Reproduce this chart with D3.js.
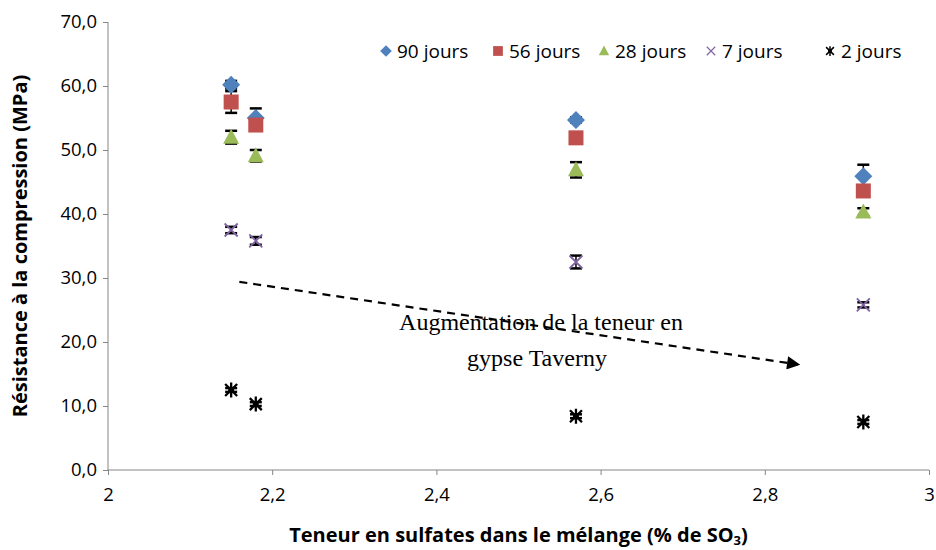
<!DOCTYPE html>
<html><head><meta charset="utf-8">
<script src="https://cdn.jsdelivr.net/npm/d3@7"></script>
<style>body{margin:0;background:#fff}svg{display:block}</style>
</head><body><svg id="c" width="936" height="550"></svg>
<script>
const sulfates = [2.15, 2.18, 2.57, 2.92];
const seriesNames = ["90 jours", "56 jours", "28 jours", "7 jours", "2 jours"];
const j90 = [60.2, 55.0, 54.7, 45.9];
const j56 = [57.5, 53.9, 51.9, 43.6];
const j28 = [52.0, 49.1, 46.9, 40.3];
const j7 = [37.5, 35.8, 32.5, 25.8];
const j2 = [12.5, 10.3, 8.4, 7.5];
const e90 = [0.6, 1.5, 0.4, 1.8];
const e56 = [1.7, 0.5, 0.4, 0.5];
const e28 = [1.0, 0.9, 1.2, 0.6];
const e7 = [0.5, 0.6, 1.0, 0.4];
const e2 = [0.3, 0.3, 0.3, 0.3];
const xTicks = [2, 2.2, 2.4, 2.6, 2.8, 3];
const yTicks = [0, 10, 20, 30, 40, 50, 60, 70];
const arrowStart = [2.16, 29.4];
const arrowEnd = [2.84, 16.5];
const annotLines = ["Augmentation de la teneur en", "gypse Taverny"];

const svg = d3.select("#c");
const m = {l:108, r:7, t:22, b:80};
const W = 936, H = 550;
const x = d3.scaleLinear().domain([2,3]).range([m.l, W-m.r]);
const y = d3.scaleLinear().domain([0,70]).range([H-m.b, m.t]);
const fmt1 = d3.format(".1f");
const fmtX = v => String(+v.toFixed(1)).replace(".", ",");
const axisCol = "#868686";
const font = "'Open Sans', Lato, sans-serif";

// axes
const ya = svg.append("g").attr("transform",`translate(${m.l},0)`)
  .call(d3.axisLeft(y).tickValues(yTicks).tickSize(5).tickPadding(6).tickFormat(v=>fmt1(v).replace(".",",")));
const xa = svg.append("g").attr("transform",`translate(0,${H-m.b})`)
  .call(d3.axisBottom(x).tickValues(xTicks).tickSize(5).tickPadding(13).tickFormat(fmtX));
[ya, xa].forEach(a=>{
  a.selectAll("path,line").attr("stroke",axisCol).attr("stroke-width",1);
  a.selectAll("text").attr("font-family",font).attr("font-size",18.5).attr("fill","#000");
});
ya.select(".domain").attr("d",`M0,${y(0)}V${y(70)}`);
xa.select(".domain").attr("d",`M${x(2)},0H${x(3)}`);

// axis titles
svg.append("text").attr("transform",`translate(27,${(y(0)+y(70))/2}) rotate(-90)`)
  .attr("text-anchor","middle").attr("font-family",font).attr("font-weight","bold").attr("font-size",20)
  .text("Résistance à la compression (MPa)");
const xt = svg.append("text").attr("x",(x(2)+x(3))/2).attr("y",542)
  .attr("text-anchor","middle").attr("font-family",font).attr("font-weight","bold").attr("font-size",20);
xt.append("tspan").text("Teneur en sulfates dans le mélange (% de SO");
xt.append("tspan").attr("font-size",13).attr("dy",3).text("3");
xt.append("tspan").attr("dy",-3).text(")");

// marker drawers
const markers = {
  diamond: (g)=>g.append("path").attr("d","M0,-9L9,0L0,9L-9,0Z").attr("fill","#4F81BD"),
  square: (g)=>g.append("rect").attr("x",-7.5).attr("y",-7.5).attr("width",15).attr("height",15).attr("fill","#C0504D"),
  triangle: (g)=>g.append("path").attr("d","M0,-8.5L8,6.5L-8,6.5Z").attr("fill","#9BBB59"),
  cross: (g)=>g.append("path").attr("d","M-6.5,-6.5L6.5,6.5M-6.5,6.5L6.5,-6.5").attr("stroke","#8064A2").attr("stroke-width",1.8).attr("fill","none"),
  star: (g)=>g.append("path").attr("d","M-6,-6L6,6M-6,6L6,-6M0,-7.5V7.5M-3,0H3").attr("stroke","#000").attr("stroke-width",2.3).attr("fill","none")
};
const series = [
  {name:seriesNames[0], vals:j90, err:e90, m:"diamond"},
  {name:seriesNames[1], vals:j56, err:e56, m:"square"},
  {name:seriesNames[2], vals:j28, err:e28, m:"triangle"},
  {name:seriesNames[3], vals:j7, err:e7, m:"cross"},
  {name:seriesNames[4], vals:j2, err:e2, m:"star"}
];

// error bars
const eg = svg.append("g").attr("stroke","#000").attr("stroke-width",1.5);
series.forEach(s=>{
  s.vals.forEach((v,i)=>{
    const cx = x(sulfates[i]), y1 = y(v+s.err[i]), y2 = y(v-s.err[i]);
    eg.append("line").attr("x1",cx).attr("x2",cx).attr("y1",y1).attr("y2",y2);
    eg.append("line").attr("x1",cx-6).attr("x2",cx+6).attr("y1",y1).attr("y2",y1).attr("stroke-width",2.5);
    eg.append("line").attr("x1",cx-6).attr("x2",cx+6).attr("y1",y2).attr("y2",y2).attr("stroke-width",2.5);
  });
});
// markers
series.forEach(s=>{
  s.vals.forEach((v,i)=>{
    const g = svg.append("g").attr("transform",`translate(${x(sulfates[i])},${y(v)})`);
    markers[s.m](g);
  });
});

// legend
const legX = [386, 498, 604, 711, 830];
series.forEach((s,i)=>{
  const g = svg.append("g").attr("transform",`translate(${legX[i]},51)`);
  const mk = markers[s.m](g);
  mk.attr("transform","scale(0.65)");
  g.append("text").attr("x",11).attr("y",7).attr("font-family",font).attr("font-size",19).text(s.name);
});

// annotation arrow
svg.append("defs").append("marker").attr("id","ah").attr("viewBox","0 0 10 10").attr("refX",8).attr("refY",5)
  .attr("markerWidth",7).attr("markerHeight",6).attr("orient","auto")
  .append("path").attr("d","M0,0L10,5L0,10Z").attr("fill","#000");
svg.append("line").attr("x1",x(arrowStart[0])).attr("y1",y(arrowStart[1]))
  .attr("x2",x(arrowEnd[0])).attr("y2",y(arrowEnd[1]))
  .attr("stroke","#000").attr("stroke-width",2.2).attr("stroke-dasharray","8,6").attr("marker-end","url(#ah)");
annotLines.forEach((t,i)=>{
  svg.append("text").attr("x",i?537:541).attr("y",330+i*36).attr("text-anchor","middle")
    .attr("font-family","'Liberation Serif', 'DejaVu Serif', serif").attr("font-size",24).text(t);
});
</script></body></html>
